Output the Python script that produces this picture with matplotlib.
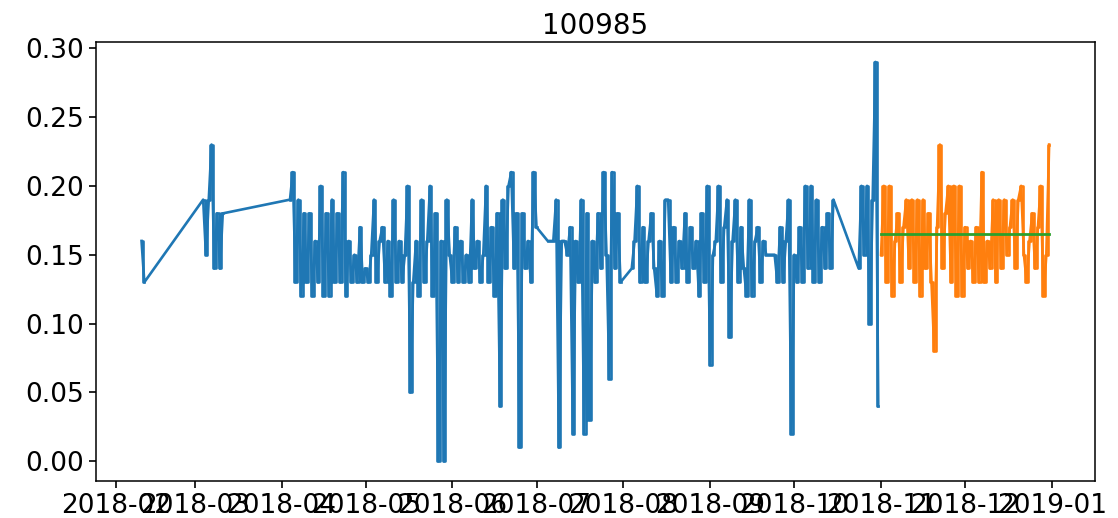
import pandas as pd
import matplotlib.pyplot as plt
import matplotlib.dates as mdates

# Train series (blue) - stored as segments of consecutive days, gaps between them
train_starts = ["2018-02-10", "2018-03-04", "2018-04-04", "2018-07-05", "2018-08-04", "2018-10-24"]
train_seg1 = [0.16, 0.13]
train_seg2 = [0.19, 0.15, 0.19, 0.23, 0.14, 0.18, 0.14, 0.18]
train_seg3 = [0.19, 0.21, 0.13, 0.19, 0.12, 0.18, 0.13, 0.18, 0.12, 0.16,
              0.13, 0.20, 0.12, 0.18, 0.12, 0.19, 0.13, 0.18, 0.13, 0.21,
              0.12, 0.16, 0.13, 0.15, 0.13, 0.17, 0.13, 0.14, 0.13, 0.15,
              0.19, 0.13, 0.16, 0.17, 0.13, 0.16, 0.12, 0.19, 0.13, 0.16,
              0.13, 0.15, 0.20, 0.05, 0.13, 0.16, 0.12, 0.19, 0.13, 0.16,
              0.20, 0.12, 0.18, 0.00, 0.16, 0.00, 0.19, 0.15, 0.13, 0.17,
              0.13, 0.16, 0.13, 0.15, 0.13, 0.19, 0.14, 0.16, 0.13, 0.15,
              0.20, 0.13, 0.17, 0.12, 0.18, 0.04, 0.19, 0.14, 0.20, 0.21,
              0.14, 0.18, 0.01, 0.18, 0.14, 0.16, 0.13, 0.21, 0.17]
train_seg4 = [0.16, 0.16, 0.16, 0.19, 0.01, 0.16, 0.16, 0.15, 0.17, 0.02,
              0.16, 0.13, 0.19, 0.02, 0.18, 0.03, 0.16, 0.13, 0.18, 0.14,
              0.21, 0.15, 0.06, 0.21, 0.14, 0.18, 0.13]
train_seg5 = [0.14, 0.16, 0.20, 0.13, 0.17, 0.13, 0.16, 0.18, 0.14, 0.12,
              0.16, 0.12, 0.19, 0.19, 0.13, 0.17, 0.13, 0.16, 0.14, 0.18,
              0.13, 0.17, 0.14, 0.16, 0.12, 0.18, 0.13, 0.20, 0.07, 0.15,
              0.16, 0.20, 0.13, 0.17, 0.19, 0.09, 0.16, 0.19, 0.13, 0.17,
              0.14, 0.12, 0.19, 0.12, 0.16, 0.17, 0.13, 0.16, 0.15, 0.15,
              0.15, 0.15, 0.13, 0.17, 0.13, 0.16, 0.19, 0.02, 0.15, 0.13,
              0.17, 0.13, 0.20, 0.14, 0.20, 0.13, 0.19, 0.13, 0.17, 0.14,
              0.18, 0.14, 0.19]
train_seg6 = [0.14, 0.20, 0.15, 0.20, 0.10, 0.19, 0.29, 0.04]

# Test series (orange), daily Nov 1 - Dec 31
test_start = "2018-11-01"
test_values = [0.15, 0.20, 0.13, 0.20, 0.12, 0.16, 0.18, 0.13, 0.17, 0.19,
               0.14, 0.19, 0.13, 0.19, 0.12, 0.19, 0.14, 0.18, 0.13, 0.08,
               0.17, 0.23, 0.14, 0.18, 0.20, 0.13, 0.20, 0.12, 0.20, 0.12,
               0.17, 0.14, 0.16, 0.13, 0.17, 0.13, 0.21, 0.13, 0.16, 0.14,
               0.19, 0.13, 0.19, 0.14, 0.19, 0.15, 0.17, 0.19, 0.14, 0.19,
               0.20, 0.15, 0.13, 0.16, 0.18, 0.14, 0.17, 0.20, 0.12, 0.15,
               0.23]

# Forecast (green) - flat level over the test period
forecast_level = 0.165

segments = [train_seg1, train_seg2, train_seg3, train_seg4, train_seg5, train_seg6]
train_parts = [pd.Series(vals, index=pd.date_range(start, periods=len(vals), freq="D"))
               for start, vals in zip(train_starts, segments)]
train = pd.concat(train_parts)
test = pd.Series(test_values, index=pd.date_range(test_start, periods=len(test_values), freq="D"))
forecast = pd.Series([forecast_level] * len(test), index=test.index)

blue = "#1f77b4"
orange = "#ff7f0e"
lw = 1.9

fig, ax = plt.subplots(figsize=(11.18, 5.18), dpi=100)
fig.subplots_adjust(left=0.086, right=0.979, top=0.919, bottom=0.071)

# plain line (joins the gaps too) plus a step trace to mimic several readings per day
ax.plot(train.index, train.values, color=blue, linewidth=lw)
for part in train_parts:
    ax.plot(part.index, part.values, color=blue, linewidth=lw, drawstyle="steps-mid")

ax.plot(test.index, test.values, color=orange, linewidth=lw)
ax.plot(test.index, test.values, color=orange, linewidth=lw, drawstyle="steps-mid")
ax.plot(forecast.index, forecast.values, color="#2ca02c", linewidth=2.0)

ax.set_title("100985", fontsize=20)
ax.xaxis.set_major_locator(mdates.MonthLocator())
ax.xaxis.set_major_formatter(mdates.DateFormatter("%Y-%m"))
ax.tick_params(labelsize=19, length=5, width=1.2)
for s in ax.spines.values():
    s.set_linewidth(1.1)

plt.savefig("out.png", dpi=100)
